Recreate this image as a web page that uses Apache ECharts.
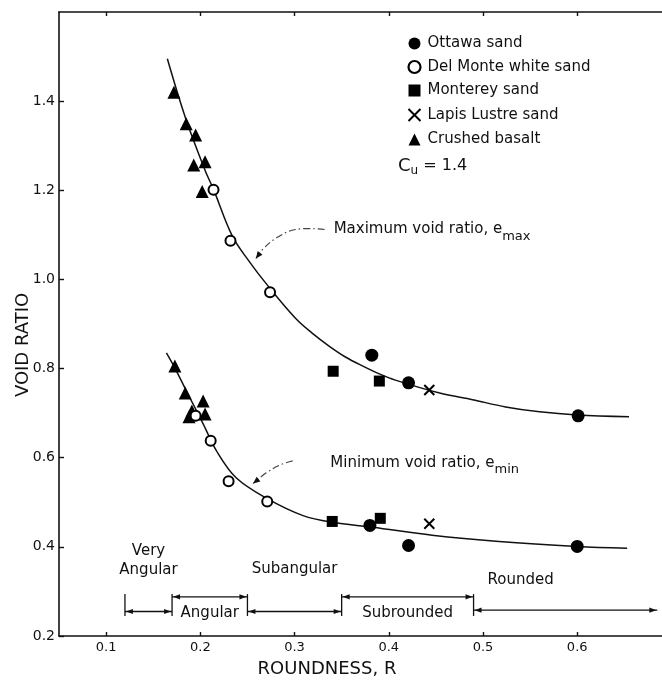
<!DOCTYPE html>
<html>
<head>
<meta charset="utf-8">
<script src="https://cdn.jsdelivr.net/npm/echarts@6/dist/echarts.min.js"></script>
<style>
  html, body { margin: 0; padding: 0; background: #fff; }
  #chart { width: 662px; height: 684px; }
</style>
</head>
<body>
<div id="chart"></div>
<script>
const FONT = "'DejaVu Sans', 'Liberation Sans', sans-serif";
const INK = '#111';

// Measured points: [roundness R, void ratio e]  (upper group = e_max, lower group = e_min)
const ottawa   = [[0.382, 0.830], [0.421, 0.768], [0.601, 0.694],
                  [0.380, 0.448], [0.421, 0.403], [0.600, 0.401]];
const delMonte = [[0.214, 1.201], [0.232, 1.087], [0.274, 0.971],
                  [0.195, 0.694], [0.211, 0.638], [0.230, 0.547], [0.271, 0.502]];
const monterey = [[0.341, 0.794], [0.390, 0.772],
                  [0.340, 0.457], [0.391, 0.464]];
const lapis    = [[0.443, 0.752], [0.443, 0.452]];
const basalt   = [[0.172, 1.420], [0.185, 1.349], [0.195, 1.324], [0.193, 1.257], [0.205, 1.264], [0.202, 1.197],
                  [0.173, 0.806], [0.184, 0.745], [0.203, 0.727], [0.191, 0.705], [0.205, 0.698], [0.188, 0.692]];

// Fitted trend curves
const emaxCurve = [[0.165, 1.495], [0.184, 1.364], [0.205, 1.245], [0.214, 1.202],
                   [0.234, 1.097], [0.252, 1.040], [0.272, 0.985], [0.301, 0.913], [0.319, 0.879], [0.337, 0.850],
                   [0.354, 0.826], [0.372, 0.806], [0.390, 0.788], [0.407, 0.774], [0.454, 0.745], [0.489, 0.730],
                   [0.524, 0.714], [0.560, 0.703], [0.600, 0.696], [0.655, 0.692]];
const eminCurve = [[0.164, 0.835], [0.173, 0.801], [0.189, 0.734], [0.203, 0.676], [0.217, 0.616], [0.238, 0.555],
                   [0.271, 0.508], [0.309, 0.470], [0.340, 0.455], [0.383, 0.444], [0.446, 0.426], [0.517, 0.412],
                   [0.600, 0.401], [0.653, 0.397]];

// Axis ticks
const xTicks = [0.1, 0.2, 0.3, 0.4, 0.5, 0.6];
const yTicks = [0.2, 0.4, 0.6, 0.8, 1.0, 1.2, 1.4];

// Roundness classes (bracketed ranges under the curves)
const classNames  = ['Very\nAngular', 'Angular', 'Subangular', 'Subrounded', 'Rounded'];
const classStart  = [0.12, 0.17, 0.25, 0.35, 0.49];
const classEnd    = [0.17, 0.25, 0.35, 0.49, 0.685];
const classLevel  = [0.255, 0.288, 0.255, 0.288, 0.258];
const classLabelR = [0.145, 0.21, 0.30, 0.42, 0.54];
const classLabelE = [0.37, 0.251, 0.35, 0.251, 0.325];
const classTickTop = 0.294, classTickBottom = 0.245;

// Curve callouts
const calloutText = ['Maximum void ratio, e', 'Minimum void ratio, e'];
const calloutSub  = ['max', 'min'];
const calloutAt   = [[0.3415, 1.112], [0.338, 0.589]];
const calloutArrows = [
  [[0.332, 1.112], [0.301, 1.112], [0.280, 1.092], [0.266, 1.067], [0.259, 1.047]],
  [[0.298, 0.593], [0.285, 0.584], [0.270, 0.566], [0.256, 0.542]]
];

const chart = echarts.init(document.getElementById('chart'), null, { renderer: 'canvas' });

function arrowHead(p, q, len, half) {
  // triangle with tip at q pointing from p to q
  const dx = q[0] - p[0], dy = q[1] - p[1];
  const d = Math.hypot(dx, dy) || 1;
  const ux = dx / d, uy = dy / d;
  const bx = q[0] - ux * len, by = q[1] - uy * len;
  return {
    type: 'polygon',
    shape: { points: [q, [bx - uy * half, by + ux * half], [bx + uy * half, by - ux * half]] },
    style: { fill: INK }
  };
}

const bracketData = classStart.map((s, i) => [s, classEnd[i], classLevel[i], classLabelR[i], classLabelE[i], i]);

function renderBracket(params, api) {
  const i = api.value(5);
  const a = api.coord([api.value(0), api.value(2)]);
  const b = api.coord([api.value(1), api.value(2)]);
  const top = api.coord([api.value(0), classTickTop])[1];
  const bot = api.coord([api.value(0), classTickBottom])[1];
  const lbl = api.coord([api.value(3), api.value(4)]);
  const line = { stroke: INK, lineWidth: 1.3 };
  const children = [
    { type: 'line', shape: { x1: a[0], y1: a[1], x2: b[0], y2: b[1] }, style: line },
    { type: 'line', shape: { x1: a[0], y1: top, x2: a[0], y2: bot }, style: line },
    arrowHead([a[0] + 10, a[1]], [a[0] + 1, a[1]], 7, 2.6),
    arrowHead([b[0] - 10, b[1]], [b[0] - 1, b[1]], 7, 2.6),
    {
      type: 'text', x: lbl[0], y: lbl[1],
      style: {
        text: classNames[i], fill: INK, font: '15px ' + FONT,
        align: 'center', verticalAlign: 'middle', lineHeight: 19
      }
    }
  ];
  return { type: 'group', children };
}

function renderCallout(params, api) {
  const i = params.dataIndex;
  const pts = calloutArrows[i].map(p => api.coord(p));
  const t = api.coord(calloutAt[i]);
  const n = pts.length;
  return {
    type: 'group',
    children: [
      {
        type: 'polyline', shape: { points: pts, smooth: 0.4 },
        style: { stroke: '#444', lineWidth: 1.2, fill: null, lineDash: [7, 3, 1.5, 3] }
      },
      arrowHead(pts[n - 2], pts[n - 1], 7, 3),
      {
        type: 'text', x: t[0], y: t[1],
        style: {
          text: '{m|' + calloutText[i] + '}{s|' + calloutSub[i] + '}',
          align: 'left', verticalAlign: 'middle',
          rich: {
            m: { fontSize: 15, fontFamily: FONT, fill: INK, color: INK },
            s: { fontSize: 13, fontFamily: FONT, fill: INK, color: INK, padding: [14, 0, 0, 0] }
          }
        }
      }
    ]
  };
}

const pointSeries = (name, data, symbol, size, extra) => Object.assign({
  name, type: 'scatter', data, symbol, symbolSize: size,
  itemStyle: { color: '#000', opacity: 1 }, z: 5, silent: true
}, extra || {});

const xTickLabel = v => v.toFixed(1);

chart.setOption({
  animation: false,
  backgroundColor: '#fff',
  textStyle: { fontFamily: FONT, color: INK },
  grid: { left: 59, right: 0, top: 12, bottom: 48 },
  xAxis: [
    {
      type: 'value', min: 0.05, max: 0.69, position: 'bottom',
      axisLine: { onZero: false, lineStyle: { color: INK, width: 1.6 } },
      axisTick: { inside: true, length: 4, customValues: xTicks, lineStyle: { color: INK, width: 1.4 } },
      axisLabel: { customValues: xTicks, formatter: xTickLabel, fontSize: 13, color: INK, margin: 5, fontFamily: FONT },
      splitLine: { show: false }
    },
    {
      type: 'value', min: 0.05, max: 0.69, position: 'top',
      axisLine: { onZero: false, lineStyle: { color: INK, width: 1.6 } },
      axisTick: { inside: true, length: 4, customValues: xTicks, lineStyle: { color: INK, width: 1.4 } },
      axisLabel: { show: false },
      splitLine: { show: false }
    }
  ],
  yAxis: {
    type: 'value', min: 0.2, max: 1.6,
    axisLine: { onZero: false, lineStyle: { color: INK, width: 1.6 } },
    axisTick: { inside: true, length: 5, customValues: yTicks, lineStyle: { color: INK, width: 1.4 } },
    axisLabel: { customValues: yTicks, formatter: v => v.toFixed(1), fontSize: 14, color: INK, margin: 4, fontFamily: FONT },
    splitLine: { show: false }
  },
  legend: {
    orient: 'vertical', left: 401, top: 31,
    itemWidth: 12, itemHeight: 12, itemGap: 8.5,
    textStyle: { fontSize: 15, color: INK, fontFamily: FONT, padding: [0, 0, 0, 2] },
    data: [
      { name: 'Ottawa sand', icon: 'circle', itemStyle: { color: '#000', opacity: 1 } },
      { name: 'Del Monte white sand', icon: 'circle',
        itemStyle: { color: '#fff', borderColor: '#000', borderWidth: 2.2, opacity: 1 } },
      { name: 'Monterey sand', icon: 'rect', itemStyle: { color: '#000', opacity: 1 } },
      { name: 'Lapis Lustre sand', icon: 'path://M0,0L10,10M10,0L0,10',
        itemStyle: { color: 'none', borderColor: '#000', borderWidth: 2, opacity: 1 } },
      { name: 'Crushed basalt', icon: 'triangle', itemStyle: { color: '#000', opacity: 1 } }
    ]
  },
  graphic: [
    {
      type: 'text', x: 398, y: 166,
      style: {
        text: '{c|C}{u|u}{e| = 1.4}', verticalAlign: 'middle',
        rich: {
          c: { fontSize: 18, fontFamily: FONT, fill: INK },
          u: { fontSize: 12, fontFamily: FONT, fill: INK, padding: [10, 0, 0, 0] },
          e: { fontSize: 16, fontFamily: FONT, fill: INK }
        }
      }
    },
    {
      type: 'text', x: 23, y: 345, rotation: Math.PI / 2,
      style: { text: 'VOID RATIO', fontSize: 18, fontFamily: FONT, fill: INK, align: 'center', verticalAlign: 'middle' }
    },
    {
      type: 'text', x: 327, y: 669,
      style: { text: 'ROUNDNESS, R', fontSize: 18, fontFamily: FONT, fill: INK, align: 'center', verticalAlign: 'middle' }
    }
  ],
  series: [
    {
      name: 'emax curve', type: 'line', data: emaxCurve, smooth: 0.35,
      showSymbol: false, symbol: 'none', lineStyle: { color: INK, width: 1.5 }, z: 3, silent: true
    },
    {
      name: 'emin curve', type: 'line', data: eminCurve, smooth: 0.35,
      showSymbol: false, symbol: 'none', lineStyle: { color: INK, width: 1.5 }, z: 3, silent: true
    },
    pointSeries('Crushed basalt', basalt, 'triangle', 13),
    pointSeries('Ottawa sand', ottawa, 'circle', 13),
    pointSeries('Monterey sand', monterey, 'rect', 11),
    pointSeries('Lapis Lustre sand', lapis, 'path://M0,0L10,10M10,0L0,10', 10,
      { itemStyle: { color: 'none', borderColor: '#000', borderWidth: 2, opacity: 1 } }),
    pointSeries('Del Monte white sand', delMonte, 'emptyCircle', 10,
      { itemStyle: { color: '#000', borderColor: '#000', borderWidth: 2.2, opacity: 1 } }),
    {
      name: 'classes', type: 'custom', data: bracketData, renderItem: renderBracket,
      encode: { x: [0, 1], y: 2 }, clip: false, silent: true, z: 4
    },
    {
      name: 'callouts', type: 'custom', data: calloutAt, renderItem: renderCallout,
      encode: { x: 0, y: 1 }, clip: false, silent: true, z: 4
    }
  ]
});
</script>
</body>
</html>
